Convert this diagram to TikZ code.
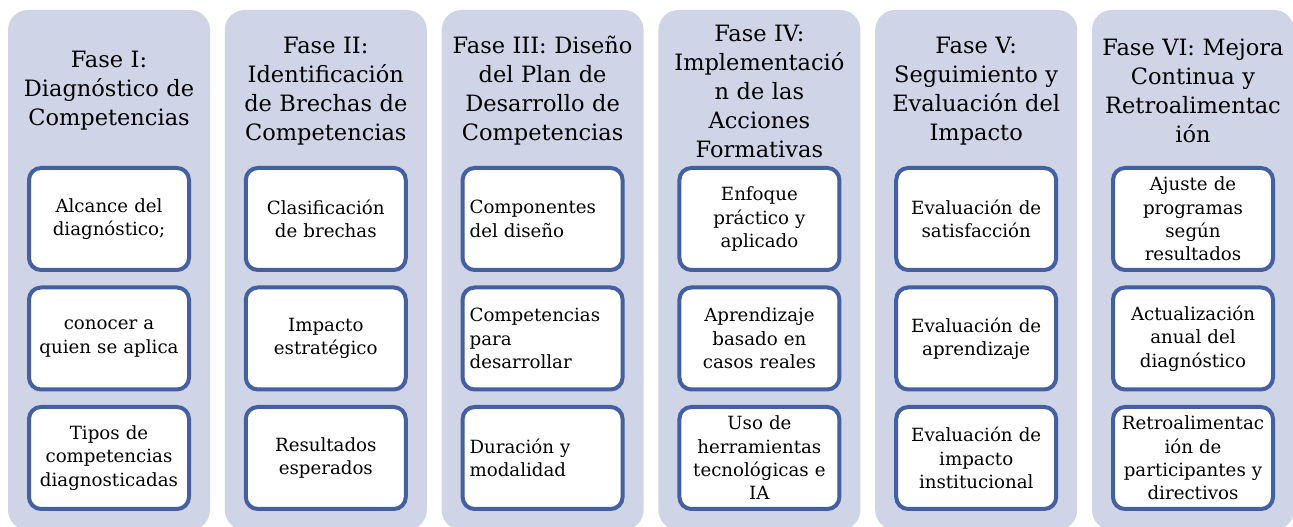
\documentclass[tikz,border=0pt]{standalone}
\usepackage{fontspec}
\setmainfont{DejaVu Serif}
\usepackage{xcolor}
\usetikzlibrary{positioning}

\definecolor{fondofase}{RGB}{207,212,230}
\definecolor{bordecaja}{RGB}{68,96,160}

\tikzset{
    fase/.style={fill=fondofase, rounded corners=20pt},
    titulo/.style={text width=202pt, align=center, inner sep=0pt, font=\fontsize{22.5}{29}\selectfont},
    caja/.style={draw=bordecaja, line width=4pt, fill=white, rounded corners=12pt,
        minimum width=160pt, minimum height=102pt, text width=156pt, align=center,
        inner sep=0pt, font=\fontsize{18.2}{23.3}\selectfont},
    cajaizq/.style={caja, text width=146pt, align=left}
}

\begin{document}
\begin{tikzpicture}[x=1pt, y=1pt]
    \useasboundingbox (0,0) rectangle (1293,527);

    % Fondos de las seis fases
    \foreach \i in {0,...,5} {
        \fill[fase] ({8+216.8*\i}, -3) rectangle ++(202, 520);
    }

    % Fase I
    \begin{scope}[shift={(109,0)}]
        \node[titulo] (t1) at (0, 436) {Fase I:\\Diagnóstico de\\Competencias};
        \node[caja] (c1a) at (0, 308) {Alcance del\\diagnóstico;};
        \node[caja, below=13.5pt of c1a] (c1b) {conocer a\\quien se aplica};
        \node[caja, below=13.5pt of c1b] (c1c) {Tipos de\\competencias\\diagnosticadas};
    \end{scope}

    % Fase II
    \begin{scope}[shift={(325.8,0)}]
        \node[titulo] (t2) at (0, 436) {Fase II:\\Identificación\\de Brechas de\\Competencias};
        \node[caja] (c2a) at (0, 308) {Clasificación\\de brechas};
        \node[caja, below=13.5pt of c2a] (c2b) {Impacto\\estratégico};
        \node[caja, below=13.5pt of c2b] (c2c) {Resultados\\esperados};
    \end{scope}

    % Fase III (texto alineado a la izquierda)
    \begin{scope}[shift={(542.6,0)}]
        \node[titulo] (t3) at (0, 436) {Fase III: Diseño\\del Plan de\\Desarrollo de\\Competencias};
        \node[cajaizq] (c3a) at (0, 308) {Componentes\\del diseño};
        \node[cajaizq, below=13.5pt of c3a] (c3b) {Competencias\\para\\desarrollar};
        \node[cajaizq, below=13.5pt of c3b] (c3c) {Duración y\\modalidad};
    \end{scope}

    % Fase IV
    \begin{scope}[shift={(759.4,0)}]
        \node[titulo] (t4) at (0, 436) {Fase IV:\\Implementació\\n de las\\Acciones\\Formativas};
        \node[caja] (c4a) at (0, 308) {Enfoque\\práctico y\\aplicado};
        \node[caja, below=13.5pt of c4a] (c4b) {Aprendizaje\\basado en\\casos reales};
        \node[caja, below=13.5pt of c4b] (c4c) {Uso de\\herramientas\\tecnológicas e\\IA};
    \end{scope}

    % Fase V
    \begin{scope}[shift={(976.2,0)}]
        \node[titulo] (t5) at (0, 436) {Fase V:\\Seguimiento y\\Evaluación del\\Impacto};
        \node[caja] (c5a) at (0, 308) {Evaluación de\\satisfacción};
        \node[caja, below=13.5pt of c5a] (c5b) {Evaluación de\\aprendizaje};
        \node[caja, below=13.5pt of c5b] (c5c) {Evaluación de\\impacto\\institucional};
    \end{scope}

    % Fase VI
    \begin{scope}[shift={(1193,0)}]
        \node[titulo] (t6) at (0, 436) {Fase VI: Mejora\\Continua y\\Retroalimentac\\ión};
        \node[caja] (c6a) at (0, 308) {Ajuste de\\programas\\según\\resultados};
        \node[caja, below=13.5pt of c6a] (c6b) {Actualización\\anual del\\diagnóstico};
        \node[caja, below=13.5pt of c6b] (c6c) {Retroalimentac\\ión de\\participantes y\\directivos};
    \end{scope}
\end{tikzpicture}
\end{document}
